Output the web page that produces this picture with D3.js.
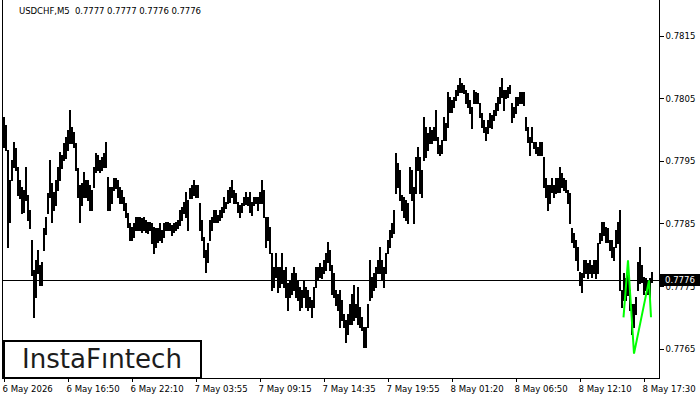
<!DOCTYPE html>
<html><head><meta charset="utf-8">
<script src="https://cdn.jsdelivr.net/npm/d3@7"></script>
<style>
html,body{margin:0;padding:0;background:#fff;}
svg{display:block;}
text{font-family:"DejaVu Sans Condensed","DejaVu Sans",sans-serif;}
</style></head>
<body>
<svg id="chart" width="700" height="400"></svg>
<script>
const symbol = "USDCHF,M5";
const lastOHLC = [0.7777, 0.7777, 0.7776, 0.7776];
const lastPrice = 0.7776;
const priceTicks = [0.7765, 0.7775, 0.7785, 0.7795, 0.7805, 0.7815];
const timeLabels = ["6 May 2026","6 May 16:50","6 May 22:10","7 May 03:55","7 May 09:15","7 May 14:35","7 May 19:55","8 May 01:20","8 May 06:50","8 May 12:10","8 May 17:30"];
const timeLabelIndex = [0,32,64,96,128,160,192,224,256,288,320];

const highs = [
0.78020,0.78007,0.77967,0.77919,0.77951,0.77980,0.77970,0.77940,0.77919,0.77908,
0.77903,0.77940,0.77895,0.77871,0.77823,0.77775,0.77791,0.77807,0.77783,0.77788,
0.77842,0.77860,0.77898,0.77951,0.77914,0.77900,0.77919,0.77940,0.77964,0.77959,
0.77978,0.77988,0.77999,0.78031,0.78004,0.77996,0.77978,0.77938,0.77911,0.77914,
0.77932,0.77919,0.77919,0.77911,0.77903,0.77940,0.77962,0.77959,0.77951,0.77956,
0.77962,0.77980,0.77924,0.77908,0.77908,0.77922,0.77922,0.77919,0.77908,0.77903,
0.77892,0.77882,0.77866,0.77850,0.77844,0.77850,0.77860,0.77860,0.77860,0.77858,
0.77860,0.77855,0.77852,0.77852,0.77850,0.77844,0.77842,0.77842,0.77850,0.77839,
0.77850,0.77853,0.77853,0.77850,0.77847,0.77850,0.77852,0.77855,0.77871,0.77876,
0.77884,0.77900,0.77887,0.77906,0.77911,0.77919,0.77911,0.77911,0.77882,0.77855,
0.77828,0.77807,0.77818,0.77855,0.77860,0.77871,0.77871,0.77863,0.77871,0.77876,
0.77892,0.77884,0.77903,0.77908,0.77919,0.77903,0.77898,0.77884,0.77879,0.77882,
0.77892,0.77900,0.77892,0.77900,0.77884,0.77892,0.77892,0.77892,0.77900,0.77919,
0.77903,0.77860,0.77860,0.77844,0.77802,0.77780,0.77802,0.77780,0.77780,0.77802,
0.77775,0.77780,0.77754,0.77759,0.77770,0.77780,0.77770,0.77759,0.77748,0.77743,
0.77759,0.77748,0.77743,0.77732,0.77727,0.77748,0.77780,0.77780,0.77786,0.77780,
0.77791,0.77802,0.77820,0.77807,0.77783,0.77770,0.77743,0.77738,0.77743,0.77727,
0.77706,0.77695,0.77706,0.77722,0.77738,0.77751,0.77722,0.77748,0.77716,0.77700,
0.77684,0.77684,0.77722,0.77791,0.77764,0.77770,0.77780,0.77791,0.77812,0.77791,
0.77780,0.77802,0.77823,0.77839,0.77850,0.77871,0.77962,0.77946,0.77935,0.77895,
0.77892,0.77887,0.77882,0.77940,0.77935,0.77908,0.77956,0.77972,0.77956,0.77935,
0.78020,0.78004,0.77994,0.78004,0.77999,0.78004,0.78031,0.77988,0.77975,0.77983,
0.78020,0.78010,0.78060,0.78052,0.78047,0.78052,0.78063,0.78071,0.78082,0.78074,
0.78071,0.78063,0.78058,0.78047,0.78036,0.78063,0.78060,0.78058,0.78042,0.78026,
0.78015,0.78004,0.78015,0.78026,0.78023,0.78031,0.78042,0.78052,0.78068,0.78082,
0.78063,0.78063,0.78068,0.78071,0.78042,0.78036,0.78052,0.78052,0.78060,0.78060,
0.78060,0.78020,0.78004,0.77988,0.78004,0.77980,0.77980,0.77972,0.77980,0.77980,
0.77956,0.77922,0.77911,0.77911,0.77922,0.77911,0.77922,0.77922,0.77940,0.77930,
0.77922,0.77919,0.77903,0.77898,0.77842,0.77834,0.77823,0.77812,0.77772,0.77770,
0.77791,0.77791,0.77786,0.77791,0.77783,0.77791,0.77791,0.77818,0.77834,0.77852,
0.77852,0.77844,0.77842,0.77823,0.77823,0.77812,0.77839,0.77852,0.77871,0.77743,
0.77770,0.77762,0.77767,0.77743,0.77722,0.77722,0.77732,0.77788,0.77812,0.77783,
0.77764,0.77762,0.77759,0.77762,0.77772];

const lows = [
0.77972,0.77967,0.77812,0.77852,0.77919,0.77940,0.77935,0.77895,0.77890,0.77866,
0.77868,0.77887,0.77855,0.77842,0.77767,0.77700,0.77732,0.77770,0.77751,0.77751,
0.77807,0.77833,0.77866,0.77892,0.77852,0.77871,0.77879,0.77903,0.77919,0.77938,
0.77951,0.77954,0.77967,0.77978,0.77978,0.77972,0.77935,0.77892,0.77852,0.77879,
0.77892,0.77892,0.77887,0.77871,0.77871,0.77908,0.77932,0.77935,0.77932,0.77935,
0.77940,0.77940,0.77871,0.77871,0.77882,0.77903,0.77906,0.77892,0.77882,0.77882,
0.77871,0.77860,0.77844,0.77823,0.77823,0.77828,0.77839,0.77839,0.77839,0.77837,
0.77839,0.77836,0.77834,0.77839,0.77818,0.77802,0.77812,0.77820,0.77823,0.77820,
0.77828,0.77839,0.77839,0.77839,0.77831,0.77836,0.77839,0.77842,0.77847,0.77855,
0.77866,0.77860,0.77839,0.77890,0.77890,0.77895,0.77892,0.77892,0.77839,0.77823,
0.77796,0.77772,0.77788,0.77823,0.77839,0.77852,0.77852,0.77852,0.77855,0.77860,
0.77868,0.77874,0.77882,0.77884,0.77892,0.77882,0.77882,0.77868,0.77860,0.77868,
0.77879,0.77881,0.77879,0.77868,0.77863,0.77879,0.77882,0.77871,0.77882,0.77882,
0.77860,0.77812,0.77823,0.77802,0.77743,0.77748,0.77764,0.77740,0.77748,0.77754,
0.77748,0.77732,0.77711,0.77732,0.77738,0.77743,0.77732,0.77727,0.77711,0.77716,
0.77732,0.77716,0.77711,0.77716,0.77700,0.77716,0.77748,0.77759,0.77764,0.77762,
0.77770,0.77775,0.77788,0.77775,0.77738,0.77732,0.77719,0.77711,0.77684,0.77695,
0.77684,0.77660,0.77674,0.77690,0.77690,0.77695,0.77700,0.77690,0.77684,0.77679,
0.77652,0.77652,0.77684,0.77727,0.77732,0.77743,0.77748,0.77770,0.77770,0.77759,
0.77748,0.77770,0.77802,0.77812,0.77828,0.77834,0.77898,0.77908,0.77887,0.77871,
0.77860,0.77855,0.77850,0.77898,0.77887,0.77850,0.77898,0.77935,0.77898,0.77892,
0.77951,0.77956,0.77967,0.77978,0.77978,0.77983,0.77983,0.77962,0.77959,0.77962,
0.77983,0.77983,0.78004,0.78028,0.78028,0.78036,0.78047,0.78055,0.78060,0.78060,
0.78058,0.78042,0.78036,0.78026,0.78002,0.78042,0.78042,0.78042,0.78020,0.78004,
0.77996,0.77983,0.77994,0.78004,0.78002,0.78015,0.78023,0.78031,0.78042,0.78052,
0.78031,0.78050,0.78052,0.78058,0.78012,0.78020,0.78026,0.78039,0.78042,0.78042,
0.78039,0.77999,0.77980,0.77959,0.77980,0.77970,0.77962,0.77959,0.77959,0.77959,
0.77908,0.77892,0.77871,0.77882,0.77900,0.77892,0.77898,0.77900,0.77900,0.77908,
0.77903,0.77900,0.77882,0.77850,0.77820,0.77812,0.77791,0.77775,0.77751,0.77740,
0.77764,0.77770,0.77762,0.77770,0.77764,0.77770,0.77762,0.77770,0.77818,0.77823,
0.77831,0.77820,0.77820,0.77807,0.77796,0.77791,0.77812,0.77818,0.77743,0.77716,
0.77727,0.77727,0.77735,0.77711,0.77674,0.77684,0.77706,0.77743,0.77754,0.77756,
0.77738,0.77743,0.77738,0.77732,0.77756];

// detected pattern (green polyline): bar position and price
const patternIndex = [309.75, 312, 315, 322.5, 323.5];
const patternPrice = [0.77700, 0.77791, 0.77642, 0.77759, 0.77700];

const svg = d3.select("#chart");
const plotLeft = 2, plotRight = 659, plotBottom = 378;

const x = d3.scaleLinear().domain([0, 324]).range([3, 651]);
const y = d3.scaleLinear().domain([0.7765, 0.7815]).range([348.6, 35.6]);

// bars
svg.append("g").attr("shape-rendering","crispEdges")
  .selectAll("rect").data(highs).join("rect")
  .attr("x", (d,i) => x(i))
  .attr("width", 2)
  .attr("y", (d,i) => Math.round(y(d)))
  .attr("height", (d,i) => Math.max(1, Math.round(y(lows[i])) - Math.round(y(d)) + 1))
  .attr("fill", "#000");

// last price line
svg.append("line").attr("shape-rendering","crispEdges")
  .attr("x1", plotLeft).attr("x2", plotRight)
  .attr("y1", Math.round(y(lastPrice))+0.5).attr("y2", Math.round(y(lastPrice))+0.5)
  .attr("stroke", "#000").attr("stroke-width", 1);

// pattern
const pts = patternIndex.map((d,i) => [x(d)+1, y(patternPrice[i])]);
svg.append("path").attr("d", d3.line()(pts))
  .attr("fill","none").attr("stroke","#00ff00").attr("stroke-width",2)
  .attr("stroke-linejoin","miter");

// frame
svg.append("g").attr("shape-rendering","crispEdges").call(g => {
  g.append("line").attr("x1",plotLeft+0.5).attr("x2",plotLeft+0.5).attr("y1",0).attr("y2",plotBottom).attr("stroke","#000");
  g.append("line").attr("x1",plotRight+0.5).attr("x2",plotRight+0.5).attr("y1",0).attr("y2",plotBottom+0.5).attr("stroke","#000");
  g.append("line").attr("x1",plotLeft).attr("x2",plotRight+1).attr("y1",plotBottom+0.5).attr("y2",plotBottom+0.5).attr("stroke","#000");
});

// right price axis
const yAxis = d3.axisRight(y).tickValues(priceTicks).tickSize(4).tickPadding(2).tickFormat(d3.format(".4f"));
const ya = svg.append("g").attr("transform", `translate(${plotRight+0.5},0)`).call(yAxis);
ya.select(".domain").remove();
ya.selectAll("line").attr("stroke","#000").attr("shape-rendering","crispEdges");
ya.selectAll("text").attr("font-size","9.5px").attr("fill","#000").attr("font-family",null);

// bottom time axis
const xAxis = d3.axisBottom(x).tickValues(timeLabelIndex).tickSize(4).tickPadding(3)
  .tickFormat((d,i) => timeLabels[i]);
const xa = svg.append("g").attr("transform", `translate(0.5,${plotBottom})`).call(xAxis);
xa.select(".domain").remove();
xa.selectAll("line").attr("stroke","#000").attr("shape-rendering","crispEdges");
xa.selectAll("text").attr("font-size","9.5px").attr("fill","#000").attr("font-family",null)
  .attr("text-anchor","start").attr("dx","-1.5");

// current price label
const lp = Math.round(y(lastPrice));
svg.append("rect").attr("x", 660).attr("y", lp-6).attr("width", 40).attr("height", 12).attr("fill","#000");
svg.append("text").attr("x", 665).attr("y", lp).attr("dy","0.35em")
  .attr("font-size","9.5px").attr("fill","#fff").text(d3.format(".4f")(lastPrice));

// title
svg.append("text").attr("x", 19).attr("y", 14).attr("font-size","9.5px").attr("fill","#000")
  .style("white-space","pre")
  .attr("textLength",182).attr("lengthAdjust","spacing")
  .text(symbol + "  " + lastOHLC.map(d3.format(".4f")).join(" "));

// logo box
svg.append("rect").attr("x", 4).attr("y", 341).attr("width", 197).attr("height", 37)
  .attr("fill","#fff").attr("stroke","#000").attr("stroke-width",2);
svg.append("text").attr("x", 22).attr("y", 368).attr("font-family","Inter, 'Open Sans', sans-serif")
  .attr("font-size","26px").attr("font-weight",500).attr("fill","#1c1c1c")
  .attr("textLength",160).attr("lengthAdjust","spacingAndGlyphs")
  .text("InstaF\u0131ntech");
</script>
</body></html>
